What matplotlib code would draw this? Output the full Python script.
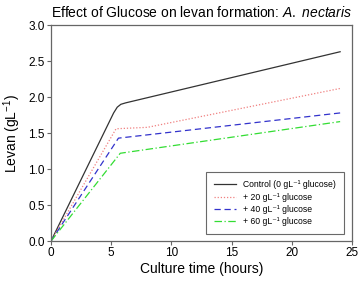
import matplotlib
matplotlib.use("Agg")
import matplotlib.pyplot as plt

plt.rcParams['font.family'] = ['Liberation Sans', 'DejaVu Sans']
plt.rcParams['mathtext.fontset'] = 'custom'
plt.rcParams['mathtext.rm'] = 'Liberation Sans'
plt.rcParams['mathtext.it'] = 'Liberation Sans:italic'

t_control = [0, 5.2, 5.5, 5.8, 6.2, 24]
v_control = [0, 1.78, 1.86, 1.90, 1.92, 2.63]
t_20 = [0, 5.4, 6.0, 8.0, 24]
v_20 = [0, 1.56, 1.565, 1.58, 2.12]
t_40 = [0, 5.6, 24]
v_40 = [0, 1.43, 1.78]
t_60 = [0, 5.75, 24]
v_60 = [0, 1.22, 1.66]

labels = ["Control (0 gL\u207b\u00b9 glucose)", "+ 20 gL\u207b\u00b9 glucose",
          "+ 40 gL\u207b\u00b9 glucose", "+ 60 gL\u207b\u00b9 glucose"]

fig = plt.figure(figsize=(3.59, 2.82), dpi=100)
ax = fig.add_axes([0.142, 0.145, 0.839, 0.766])

ax.plot(t_control, v_control, color='#333333', lw=0.9, ls='-', label=labels[0])
ax.plot(t_20, v_20, color='#f08080', lw=0.9, ls=(0, (1, 1.5)), label=labels[1])
ax.plot(t_40, v_40, color='#3333cc', lw=0.9, ls=(0, (5, 3)), label=labels[2])
ax.plot(t_60, v_60, color='#33dd33', lw=0.9, ls=(0, (6, 2, 1, 2)), label=labels[3])

ax.set_xlim(0, 25)
ax.set_ylim(0, 3.0)
ax.set_xticks([0, 5, 10, 15, 20, 25])
ax.set_yticks([0, 0.5, 1.0, 1.5, 2.0, 2.5, 3.0])
ax.set_yticklabels(['0.0', '0.5', '1.0', '1.5', '2.0', '2.5', '3.0'])
for s in ax.spines.values():
    s.set_color('#666666')
    s.set_linewidth(0.9)
ax.tick_params(direction='out', length=3, width=0.8, color='#666666', labelsize=8.5, pad=1.5)

ax.set_xlabel('Culture time (hours)', fontsize=10, labelpad=2)
ax.set_ylabel('Levan (gL$^{-1}$)', fontsize=10, labelpad=4)
ax.set_title('Effect of Glucose on levan formation: $\\it{A.\\ nectaris}$', fontsize=10, pad=6)

leg = ax.legend(loc='lower right', fontsize=6.2, frameon=True, fancybox=False,
                edgecolor='#444444', handlelength=2.5, handletextpad=0.9,
                borderpad=0.9, labelspacing=0.4, borderaxespad=0,
                bbox_to_anchor=(0.973, 0.032))
leg.get_frame().set_linewidth(0.8)

fig.savefig('out.png', dpi=100)
